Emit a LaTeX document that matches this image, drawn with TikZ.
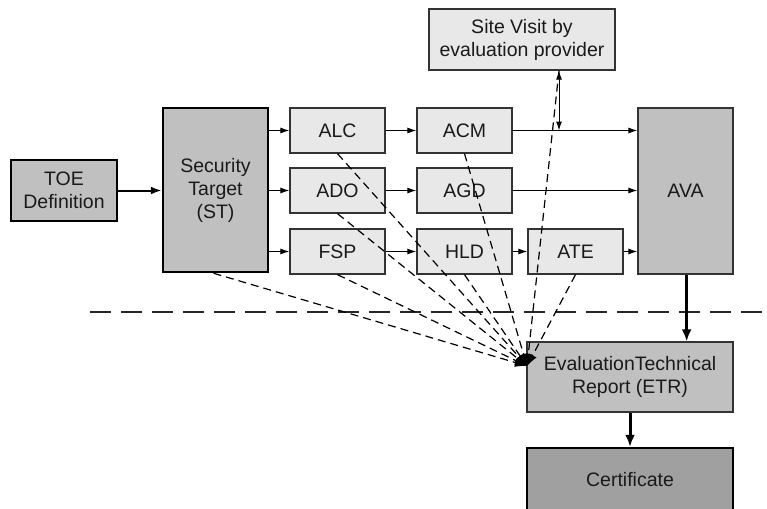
\documentclass[tikz,border=0pt]{standalone}
\usepackage{fontspec}
\setmainfont{Liberation Sans}
\usetikzlibrary{arrows.meta}
\definecolor{lightfill}{HTML}{E8E8E8}
\definecolor{midfill}{HTML}{C0C0C0}
\definecolor{darkfill}{HTML}{A0A0A0}
\definecolor{bordercol}{HTML}{333333}
\definecolor{textcol}{HTML}{1A1A1A}
\tikzset{
  box/.style={draw=bordercol, line width=1.3pt, inner sep=0pt, align=center, text=textcol,
    font=\fontsize{19.5}{23}\selectfont},
  lbox/.style={box, fill=lightfill, minimum width=95pt, minimum height=45pt},
  mbox/.style={box, fill=midfill},
  thickbox/.style={line width=2.5pt, draw=black},
  arr/.style={line width=1pt, -{Latex[length=9pt,width=6pt]}},
  tarr/.style={line width=3pt, -{Latex[length=12pt,width=10pt]}},
  fan/.style={line width=1.2pt, dash pattern=on 8pt off 5pt, -{Latex[length=12pt,width=9pt]}},
}
\begin{document}
\begin{tikzpicture}[x=1pt,y=-1pt]
\clip (0,0) rectangle (767,508);
\fill[white] (0,0) rectangle (767,508);
% nodes
\node[mbox, thickbox, minimum width=106pt, minimum height=61pt] (toe) at (64,190.5) {TOE\\Definition};
\node[mbox, thickbox, minimum width=105pt, minimum height=164pt] (st) at (215.5,190) {Security\\Target\\(ST)};
\node[lbox] (alc) at (337.5,130.5) {ALC};
\node[lbox] (ado) at (337.5,190.5) {ADO};
\node[lbox] (fsp) at (337.5,251.5) {FSP};
\node[lbox] (acm) at (464.5,130.5) {ACM};
\node[lbox] (agd) at (464.5,190.5) {AGD};
\node[lbox] (hld) at (464.5,251.5) {HLD};
\node[lbox] (ate) at (575.5,251.5) {ATE};
\node[mbox, minimum width=95pt, minimum height=166pt] (ava) at (685.5,191) {AVA};
\node[box, fill=lightfill, minimum width=186pt, minimum height=61pt] (site) at (522,39.5) {Site Visit by\\evaluation provider};
\node[mbox, minimum width=206pt, minimum height=70pt] (etr) at (630,377) {EvaluationTechnical\\Report (ETR)};
\node[box, fill=darkfill, thickbox, minimum width=206pt, minimum height=64pt] (cert) at (630,480) {Certificate};
% coordinates
\coordinate (sv) at (559,130.5);
\coordinate (conv) at (527,366);
\coordinate (dl) at (90,312);
\coordinate (dr) at (767,312);
% dashed separator
\draw[line width=1.2pt, dash pattern=on 21pt off 10pt, black!85] (dl) -- (dr);
% solid arrows
\draw[line width=2pt, -{Latex[length=11pt,width=8pt]}] (toe.east) -- (st.west |- toe.east);
\draw[arr] (st.east |- alc.west) -- (alc.west);
\draw[arr] (st.east |- ado.west) -- (ado.west);
\draw[arr] (st.east |- fsp.west) -- (fsp.west);
\draw[arr] (alc.east) -- (acm.west);
\draw[arr] (ado.east) -- (agd.west);
\draw[arr] (fsp.east) -- (hld.west);
\draw[arr] (hld.east) -- (ate.west);
\draw[arr] (acm.east) -- (ava.west |- acm.east);
\draw[arr] (agd.east) -- (ava.west |- agd.east);
\draw[arr] (ate.east) -- (ava.west |- ate.east);
\draw[line width=1pt, {Latex[length=9pt,width=6pt]}-{Latex[length=9pt,width=6pt]}] (site.south -| sv) -- (sv);
\draw[tarr] (ava.south -| etr.north east) ++(-47,0) coordinate (avab) -- (avab |- etr.north);
\draw[tarr] (etr.south) -- (cert.north);
% fan of dashed arrows
\draw[fan] (st.south) ++(-2,0) -- (conv);
\draw[fan] (alc.south) -- (conv);
\draw[fan] (ado.south) -- (conv);
\draw[fan] (fsp.south) -- (conv);
\draw[fan] (acm.south) -- (conv);
\draw[fan] (hld.south) -- (conv);
\draw[fan] (ate.south) -- (conv);
\draw[fan] (site.south -| sv) -- (conv);
\end{tikzpicture}
\end{document}
